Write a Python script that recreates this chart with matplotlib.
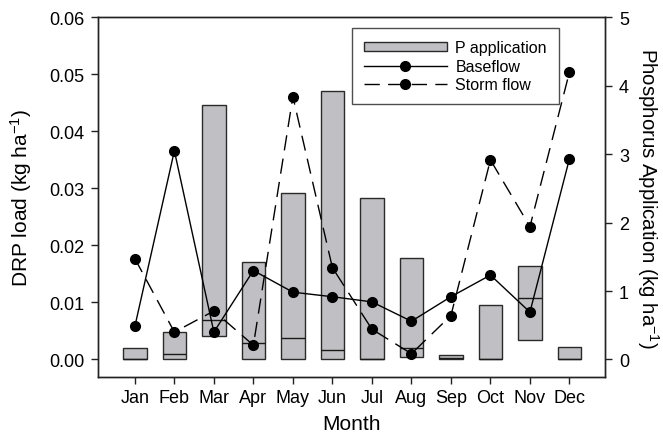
'''DRP load and P application by month'''

import numpy as np
import matplotlib
matplotlib.use('Agg')
import matplotlib.pyplot as plt

plt.rcParams['font.family'] = ['Liberation Sans', 'DejaVu Sans']
plt.rcParams['mathtext.fontset'] = 'custom'
plt.rcParams['mathtext.rm'] = 'Liberation Sans'
plt.rcParams['mathtext.it'] = 'Liberation Sans:italic'

months = ['Jan', 'Feb', 'Mar', 'Apr', 'May', 'Jun',
          'Jul', 'Aug', 'Sep', 'Oct', 'Nov', 'Dec']
# DRP load, kg/ha (left axis)
baseflow = [0.0058, 0.0366, 0.0048, 0.0156, 0.0118, 0.0110,
            0.0101, 0.0067, 0.0110, 0.0148, 0.0083, 0.0352]
stormflow = [0.0177, 0.0048, 0.0085, 0.0025, 0.0461, 0.0161,
             0.0053, 0.0010, 0.0077, 0.0350, 0.0233, 0.0504]
# P application, kg/ha (right axis): box low, high, middle line
p_low = [0.0, 0.0, 0.34, 0.0, 0.0, 0.0, 0.0, 0.035, 0.0, 0.0, 0.28, 0.0]
p_high = [0.16, 0.40, 3.72, 1.42, 2.44, 3.93, 2.36, 1.49, 0.07, 0.79, 1.36, 0.18]
p_mid = [0.01, 0.08, 0.58, 0.24, 0.31, 0.14, 0.0, 0.16, 0.02, 0.0, 0.90, 0.0]

x = np.arange(len(months))
bar_w = 0.6

fig = plt.figure(figsize=(6.63, 4.39), dpi=100)
ax = fig.add_axes([0.148, 0.140, 0.7645, 0.818])
ax2 = ax.twinx()

# bars on the right axis, drawn under the lines
heights = np.array(p_high) - np.array(p_low)
bars = ax2.bar(x, heights, bottom=p_low, width=bar_w, color='#c0c0c4',
               edgecolor='#2a2a2a', linewidth=1.0, label='P application')
ax2.hlines(p_mid, x - bar_w / 2, x + bar_w / 2, color='#1a1a1a', linewidth=1.0)

ax.set_zorder(ax2.get_zorder() + 1)
ax.patch.set_visible(False)

l1, = ax.plot(x, baseflow, '-', color='black', linewidth=1.0,
              marker='o', markersize=7, label='Baseflow')
l2, = ax.plot(x, stormflow, color='black', linewidth=1.0, dashes=(11, 6),
              marker='o', markersize=7, label='Storm flow')

ax.set_xlim(-0.93, 11.9)
ax.set_ylim(-0.003, 0.06)
ax2.set_ylim(-0.25, 5)
ax.set_xticks(x)
ax.set_xticklabels(months)
ax.set_yticks(np.arange(0, 0.061, 0.01))
ax.set_yticklabels([f'{v:.2f}' for v in np.arange(0, 0.061, 0.01)])
ax2.set_yticks(range(6))

for a in (ax, ax2):
    a.tick_params(direction='out', length=5, width=1.0, labelsize=13,
                  color='#222222', pad=5)
    for s in a.spines.values():
        s.set_linewidth(1.0)
        s.set_color('#222222')
ax.tick_params(axis='x', pad=4)

ax.set_xlabel('Month', fontsize=15, labelpad=6)
ax.set_ylabel('DRP load (kg ha$^{-1}$)', fontsize=15)
ax.yaxis.set_label_coords(-0.127, 0.5)
ax2.set_ylabel('Phosphorus Application (kg ha$^{-1}$)', fontsize=14.7,
               rotation=270, labelpad=23)

leg = ax.legend([bars, l1, l2], ['P application', 'Baseflow', 'Storm flow'],
                loc='upper left', bbox_to_anchor=(0.50, 0.970), fontsize=11.5,
                frameon=True, fancybox=False, edgecolor='#222222',
                handlelength=5.2, handleheight=0.5, labelspacing=0.22,
                borderpad=0.75, handletextpad=0.55, borderaxespad=0)
leg.get_frame().set_linewidth(1.0)

fig.savefig('out.png', dpi=100)
